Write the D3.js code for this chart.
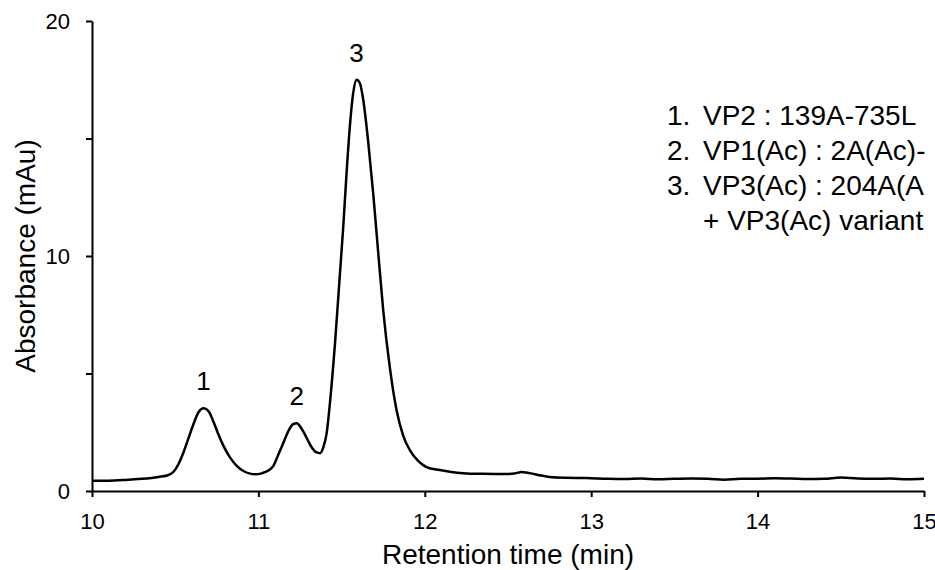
<!DOCTYPE html>
<html>
<head>
<meta charset="utf-8">
<script src="https://cdn.jsdelivr.net/npm/d3@7"></script>
<style>
  body { margin: 0; background: #fff; }
  text { font-family: "Liberation Sans", Arial, sans-serif; fill: #000; }
  .axis path, .axis line { stroke: #000; stroke-width: 2; }
  .axis text { font-family: "Liberation Sans", Arial, sans-serif; font-size: 22px; }
  .trace { fill: none; stroke: #000; stroke-width: 2.5; }
</style>
</head>
<body>
<div id="chart_div"></div>
<script>
// retention time (min) and absorbance (mAu)
var times = [10.00, 10.10, 10.20, 10.30, 10.40, 10.45, 10.49, 10.52, 10.55, 10.58,
    10.61, 10.64, 10.67, 10.70, 10.73, 10.76, 10.79, 10.83, 10.87, 10.91,
    10.95, 10.98, 11.02, 11.06, 11.09, 11.12, 11.15, 11.18, 11.21, 11.23,
    11.26, 11.29, 11.32, 11.35, 11.37, 11.39, 11.41, 11.43, 11.46, 11.49,
    11.51, 11.53, 11.55, 11.57, 11.59, 11.61, 11.63, 11.66, 11.69, 11.72,
    11.75, 11.79, 11.83, 11.87, 11.91, 11.96, 12.01, 12.09, 12.16, 12.23,
    12.35, 12.49, 12.55, 12.58, 12.63, 12.70, 12.77, 12.85, 12.97, 13.10,
    13.20, 13.30, 13.40, 13.50, 13.60, 13.70, 13.80, 13.90, 14.00, 14.10,
    14.20, 14.30, 14.40, 14.50, 14.60, 14.70, 14.80, 14.90, 15.00];
var absorbance = [0.44, 0.44, 0.47, 0.52, 0.60, 0.66, 0.82, 1.15, 1.65, 2.25,
    2.85, 3.35, 3.52, 3.40, 2.95, 2.40, 1.92, 1.42, 1.07, 0.85,
    0.74, 0.71, 0.75, 0.87, 1.07, 1.55, 2.05, 2.55, 2.85, 2.88,
    2.65, 2.26, 1.86, 1.64, 1.61, 1.86, 2.45, 3.75, 6.25, 9.25,
    11.25, 13.55, 15.55, 16.95, 17.50, 17.35, 16.65, 14.85, 12.65, 10.15,
    7.70, 5.25, 3.45, 2.36, 1.74, 1.28, 1.02, 0.89, 0.81, 0.76,
    0.73, 0.72, 0.76, 0.81, 0.76, 0.66, 0.58, 0.56, 0.55, 0.52,
    0.51, 0.53, 0.50, 0.52, 0.53, 0.52, 0.48, 0.52, 0.52, 0.54,
    0.53, 0.51, 0.52, 0.57, 0.53, 0.52, 0.53, 0.50, 0.52];

var xTicks = [10, 11, 12, 13, 14, 15];
var yTicks = [0, 5, 10, 15, 20];
var yLabelled = [0, 10, 20];

var peakNames = ["1", "2", "3"];
var peakTimes = [10.67, 11.23, 11.59];
var peakHeights = [3.52, 2.88, 17.5];

var legendNums = ["1.", "2.", "3.", ""];
var legendTexts = ["VP2 : 139A-735L", "VP1(Ac) : 2A(Ac)-", "VP3(Ac) : 204A(A", "+ VP3(Ac) variant"];

var data = times.map(function (t, i) {
    return {t: t, v: absorbance[i]};
});

var svg = d3.select("#chart_div").append("svg").attr("width", 935).attr("height", 570),
        margin = {top: 21, right: 11, bottom: 79, left: 92},
width = +svg.attr("width") - margin.left - margin.right,
        height = +svg.attr("height") - margin.top - margin.bottom,
        g = svg.append("g").attr("transform", "translate(" + margin.left + "," + margin.top + ")");

var x = d3.scaleLinear().domain([10, 15]).range([0, width]);
var y = d3.scaleLinear().domain([0, 20]).range([height, 0]);

var line = d3.line()
        .x(function (d) { return x(d.t); })
        .y(function (d) { return y(d.v); })
        .curve(d3.curveMonotoneX);

g.append("g")
        .attr("class", "axis axis--x")
        .attr("transform", "translate(0," + height + ")")
        .call(d3.axisBottom(x).tickValues(xTicks).tickSize(6).tickSizeOuter(0).tickPadding(16)
                .tickFormat(d3.format("d")));

g.append("g")
        .attr("class", "axis axis--y")
        .call(d3.axisLeft(y).tickValues(yTicks).tickSize(6).tickSizeOuter(0).tickPadding(16)
                .tickFormat(function (d) { return yLabelled.indexOf(d) >= 0 ? d : ""; }));

g.selectAll(".axis").attr("font-size", null).attr("font-family", null);

g.append("path")
        .datum(data)
        .attr("class", "trace")
        .attr("d", line);

// peak numbers
g.selectAll(".peaklabel")
        .data(peakNames)
        .enter().append("text")
        .attr("class", "peaklabel")
        .attr("x", function (d, i) { return x(peakTimes[i]); })
        .attr("y", function (d, i) { return y(peakHeights[i]) - 18; })
        .attr("text-anchor", "middle")
        .style("font-size", "26px")
        .text(function (d) { return d; });

// axis titles
svg.append("text")
        .attr("x", margin.left + width / 2)
        .attr("y", 564)
        .attr("text-anchor", "middle")
        .style("font-size", "28px")
        .text("Retention time (min)");

svg.append("text")
        .attr("transform", "translate(35," + (margin.top + height / 2) + ") rotate(-90)")
        .attr("text-anchor", "middle")
        .style("font-size", "28px")
        .text("Absorbance (mAu)");

// peak legend, runs off the right edge like the original
var leg = svg.append("g").attr("transform", "translate(667,125)");
leg.selectAll(".lnum")
        .data(legendNums)
        .enter().append("text")
        .attr("x", 0)
        .attr("y", function (d, i) { return i * 35; })
        .style("font-size", "28px")
        .text(function (d) { return d; });
leg.selectAll(".ltxt")
        .data(legendTexts)
        .enter().append("text")
        .attr("x", 36)
        .attr("y", function (d, i) { return i * 35; })
        .style("font-size", "28px")
        .text(function (d) { return d; });
</script>
</body>
</html>
